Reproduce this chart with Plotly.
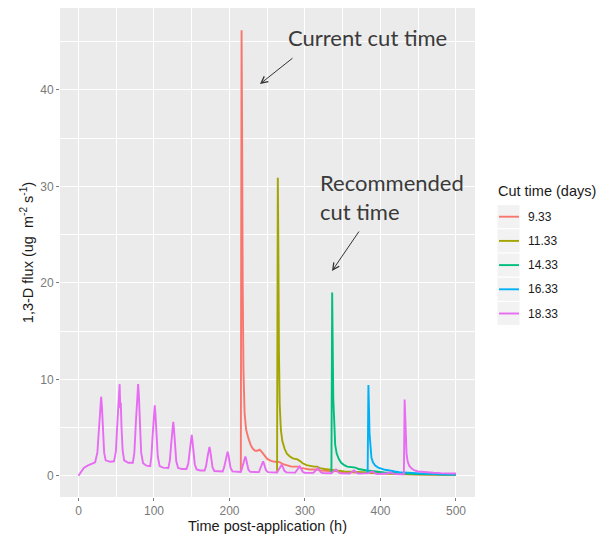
import plotly.graph_objects as go

# ---------------- data ----------------
cut_labels = ["9.33", "11.33", "14.33", "16.33", "18.33"]
colors = ["#F8766D", "#A3A500", "#00BF7D", "#00B0F6", "#E76BF3"]

# uncut diurnal emission curve (h, flux)
base_t = [0, 3, 7, 12, 18, 22,
          25, 27.5, 29, 30, 31, 32.5, 34, 36, 42, 47,
          49.5, 51.5, 53.2, 54.5, 55.3, 56, 57, 58.5, 60.5, 66, 72,
          74, 76, 78, 79, 80, 81.5, 83, 85.5, 90, 95,
          96.5, 98.5, 100, 101, 102, 103.5, 105, 107.5, 112, 119,
          121, 123, 124.5, 125.5, 126.5, 128, 129.5, 132, 137, 143,
          145.5, 147.5, 149, 150, 151, 152.5, 154, 156.5, 161, 167,
          169, 171, 172.5, 173.5, 174.5, 176, 177.5, 180, 185, 191,
          193, 195, 196.5, 197.5, 198.5, 200, 201.5, 204, 209, 215,
          216.5, 218.5, 220, 221, 222, 223.5, 225, 227.5, 233, 239,
          240, 242, 243.5, 244.5, 245.5, 247, 248.5, 251, 257, 263,
          264.5, 266.5, 268, 269, 270, 271.5, 273, 275.5, 281, 287,
          288.5, 290.5, 292, 293, 294, 295.5, 297, 299.5, 305, 311,
          312.5, 314.5, 316, 317, 318, 319.5, 321, 323.5, 329, 335,
          336.5, 338.5, 340, 341, 342, 343.5, 345, 347.5, 353, 359,
          360.5, 362.5, 364, 365, 366, 367.5, 369, 371.5, 377, 383,
          384.5, 386.5, 388, 389, 390, 391.5, 393, 395.5, 401, 407,
          408.5, 410.5, 412, 413, 414, 415.5, 417, 419.5, 425, 431]
base_flux = [0, 0.4, 0.8, 1.05, 1.25, 1.4,
             2.4, 5.0, 7.4, 8.2, 7.2, 4.5, 2.4, 1.6, 1.45, 1.5,
             2.5, 5.5, 8.6, 9.5, 7.0, 7.6, 5.0, 2.6, 1.6, 1.35, 1.35,
             2.4, 5.5, 8.7, 9.5, 8.3, 5.0, 2.4, 1.3, 1.05, 1.0,
             2.0, 4.5, 6.7, 7.3, 6.3, 3.8, 2.0, 1.0, 0.85, 0.8,
             1.6, 3.5, 5.1, 5.6, 4.8, 2.9, 1.5, 0.8, 0.7, 0.7,
             1.3, 2.7, 3.9, 4.25, 3.6, 2.2, 1.2, 0.65, 0.55, 0.55,
             1.0, 2.0, 2.8, 3.0, 2.6, 1.6, 0.9, 0.5, 0.45, 0.45,
             0.9, 1.7, 2.3, 2.5, 2.2, 1.4, 0.8, 0.45, 0.4, 0.4,
             0.75, 1.4, 1.85, 2.0, 1.75, 1.1, 0.65, 0.4, 0.38, 0.38,
             0.6, 1.1, 1.4, 1.5, 1.3, 0.85, 0.55, 0.38, 0.35, 0.35,
             0.55, 0.85, 1.08, 1.15, 1.0, 0.7, 0.48, 0.35, 0.33, 0.33,
             0.5, 0.75, 0.92, 0.97, 0.85, 0.6, 0.42, 0.32, 0.3, 0.3,
             0.42, 0.62, 0.76, 0.8, 0.7, 0.5, 0.36, 0.28, 0.27, 0.27,
             0.36, 0.52, 0.62, 0.65, 0.58, 0.42, 0.31, 0.25, 0.24, 0.24,
             0.32, 0.45, 0.53, 0.55, 0.5, 0.37, 0.28, 0.22, 0.21, 0.21,
             0.27, 0.37, 0.43, 0.45, 0.41, 0.31, 0.24, 0.19, 0.18, 0.18,
             0.23, 0.31, 0.36, 0.38, 0.35, 0.27, 0.21, 0.17, 0.16, 0.16]

# post-cut emission for each cut time (h, flux)
post_t_933 = [216, 216.7, 217.5, 218.5, 220, 222, 225, 228, 231, 234, 237, 240, 242.5, 246,
              250, 255, 260, 264, 267, 271, 276, 282, 287, 291, 295, 300, 306, 312, 316,
              320, 326, 333, 340, 345, 352, 360, 366, 372, 380, 390, 400, 410, 420, 435,
              450, 475, 500]
post_flux_933 = [46.2, 36, 20, 11, 6.5, 4.8, 3.9, 3.2, 2.8, 2.6, 2.6, 2.7, 2.5, 2.1,
                 1.75, 1.55, 1.45, 1.45, 1.4, 1.2, 1.05, 0.95, 0.95, 0.95, 0.82, 0.72, 0.65,
                 0.65, 0.65, 0.55, 0.5, 0.48, 0.48, 0.4, 0.36, 0.35, 0.33, 0.28, 0.26, 0.25,
                 0.2, 0.2, 0.17, 0.15, 0.13, 0.11, 0.1]

post_t_1133 = [264, 264.7, 265.5, 266.5, 268, 270, 273, 276, 280, 284, 287, 290, 293, 297,
               302, 308, 312, 316, 320, 326, 333, 340, 345, 352, 360, 366, 372, 380, 390,
               400, 415, 430, 450, 475, 500]
post_flux_1133 = [30.9, 24, 13, 7.5, 4.8, 3.6, 2.8, 2.3, 2.0, 1.8, 1.75, 1.7, 1.55, 1.3,
                  1.1, 1.0, 0.95, 0.95, 0.8, 0.7, 0.62, 0.6, 0.52, 0.45, 0.42, 0.4, 0.34,
                  0.3, 0.28, 0.24, 0.21, 0.18, 0.15, 0.12, 0.1]

post_t_1433 = [336, 336.7, 337.5, 338.5, 340, 342, 345, 348, 352, 356, 360, 364, 367, 371,
               376, 382, 388, 392, 398, 405, 412, 418, 425, 435, 450, 475, 500]
post_flux_1433 = [19.0, 14, 8, 4.8, 3.2, 2.3, 1.7, 1.35, 1.1, 0.95, 0.9, 0.9, 0.85, 0.7,
                  0.6, 0.55, 0.5, 0.45, 0.38, 0.34, 0.32, 0.28, 0.25, 0.22, 0.18, 0.14, 0.12]

post_t_1633 = [384, 384.7, 385.5, 386.5, 388, 390, 393, 397, 401, 406, 410, 414, 419, 425,
               432, 440, 450, 465, 480, 500]
post_flux_1633 = [9.4, 7.2, 4.4, 2.8, 1.9, 1.4, 1.05, 0.85, 0.72, 0.62, 0.58, 0.55, 0.45,
                  0.38, 0.34, 0.3, 0.25, 0.2, 0.16, 0.13]

post_t_1833 = [432, 432.7, 433.5, 434.5, 436, 438, 441, 445, 450, 456, 462, 470, 480, 490, 500]
post_flux_1833 = [7.9, 6.0, 3.8, 2.3, 1.5, 1.05, 0.78, 0.55, 0.45, 0.4, 0.36, 0.32, 0.28,
                  0.26, 0.24]

post_t = [post_t_933, post_t_1133, post_t_1433, post_t_1633, post_t_1833]
post_flux = [post_flux_933, post_flux_1133, post_flux_1433, post_flux_1633, post_flux_1833]

x_ticks = [0, 100, 200, 300, 400, 500]
y_ticks = [0, 10, 20, 30, 40]

# ---------------- layout geometry (pixels) ----------------
W, H = 605, 538
L, R, T, B = 60, 475, 8, 497   # panel edges


def px(xp):
    return (xp - L) / (R - L)


def py(yp):
    return (B - yp) / (B - T)


FONT = "Liberation Sans, Arial, sans-serif"
LW = 1.9

fig = go.Figure()
last = len(cut_labels) - 1
for i, (lab, col, pt, pf) in enumerate(zip(cut_labels, colors, post_t, post_flux)):
    pre = [(t, f) for t, f in zip(base_t, base_flux) if t < pt[0]]
    if i != last:
        # the pre-cut part is identical for all series and hidden under the last one
        pre = pre[-1:]
    xs = [t for t, _ in pre] + pt
    ys = [f for _, f in pre] + pf
    fig.add_trace(go.Scatter(x=xs, y=ys, mode="lines", name=lab,
                             line=dict(color=col, width=LW), showlegend=False))

shapes = []
annotations = []

# manual legend (ggplot style)
annotations.append(dict(xref="paper", yref="paper", x=px(496), y=py(191),
                        xanchor="left", yanchor="middle", showarrow=False,
                        text="Cut time (days)", font=dict(family=FONT, size=14.5, color="#1a1a1a")))
key_y0 = 216.7
key_step = 24.2
for i, (lab, col) in enumerate(zip(cut_labels, colors)):
    cy = key_y0 + i * key_step
    shapes.append(dict(type="rect", xref="paper", yref="paper",
                       x0=px(497), x1=px(520), y0=py(cy + key_step / 2), y1=py(cy - key_step / 2),
                       fillcolor="#F2F2F2", line=dict(color="white", width=1), layer="below"))
    shapes.append(dict(type="line", xref="paper", yref="paper",
                       x0=px(499), x1=px(519), y0=py(cy), y1=py(cy),
                       line=dict(color=col, width=LW)))
    annotations.append(dict(xref="paper", yref="paper", x=px(526), y=py(cy),
                            xanchor="left", yanchor="middle", showarrow=False,
                            text=lab, font=dict(family=FONT, size=12, color="#1a1a1a")))

# callouts
CALLOUT = "Lato, Open Sans, sans-serif"
annotations.append(dict(xref="paper", yref="paper", x=px(286), y=py(37),
                        xanchor="left", yanchor="middle", showarrow=False,
                        text="Current cut time", font=dict(family=CALLOUT, size=22, color="#3a3a3a")))
annotations.append(dict(xref="paper", yref="paper", x=px(318), y=py(197),
                        xanchor="left", yanchor="middle", showarrow=False, align="left",
                        text="Recommended<br>cut time", font=dict(family=CALLOUT, size=22, color="#3a3a3a")))
# arrows
annotations.append(dict(xref="paper", yref="paper", x=px(260), y=py(84), text="",
                        showarrow=True, ax=34, ay=-27, arrowhead=5, arrowsize=1.3,
                        arrowwidth=1, arrowcolor="#333333", standoff=0, startstandoff=0))
annotations.append(dict(xref="paper", yref="paper", x=px(332), y=py(271), text="",
                        showarrow=True, ax=28, ay=-41, arrowhead=5, arrowsize=1.3,
                        arrowwidth=1, arrowcolor="#333333", standoff=0, startstandoff=0))

fig.update_layout(
    width=W, height=H,
    margin=dict(l=L, r=W - R, t=T, b=H - B, autoexpand=False),
    paper_bgcolor="white", plot_bgcolor="#EBEBEB",
    font=dict(family=FONT, size=12, color="#7a7a7a"),
    shapes=shapes, annotations=annotations,
    showlegend=False,
)
fig.update_xaxes(
    range=[-24.5, 525.2], tickvals=x_ticks, ticks="outside", ticklen=3, tickwidth=1,
    tickcolor="#7a7a7a", tickfont=dict(size=12, color="#7a7a7a"),
    showgrid=True, gridcolor="white", gridwidth=1.3, zeroline=False, showline=False,
    minor=dict(dtick=50, tick0=0, showgrid=True, gridcolor="white", gridwidth=0.6, ticks=""),
    title=dict(text="Time post-application (h)", standoff=0,
               font=dict(family=FONT, size=14.5, color="#1a1a1a")),
)
fig.update_yaxes(
    range=[-2.2, 48.5], tickvals=y_ticks, ticks="outside", ticklen=3, tickwidth=1,
    tickcolor="#7a7a7a", tickfont=dict(size=12, color="#7a7a7a"),
    showgrid=True, gridcolor="white", gridwidth=1.3, zeroline=False, showline=False,
    minor=dict(dtick=5, tick0=0, showgrid=True, gridcolor="white", gridwidth=0.6, ticks=""),
    title=dict(text="1,3-D flux (ug\u00a0 m<sup>-2</sup> s<sup>-1</sup>)", standoff=3,
               font=dict(family=FONT, size=14.5, color="#1a1a1a")),
)

fig.write_html("out.html", config={"displayModeBar": False},
               post_script="document.body.style.margin='0';")
